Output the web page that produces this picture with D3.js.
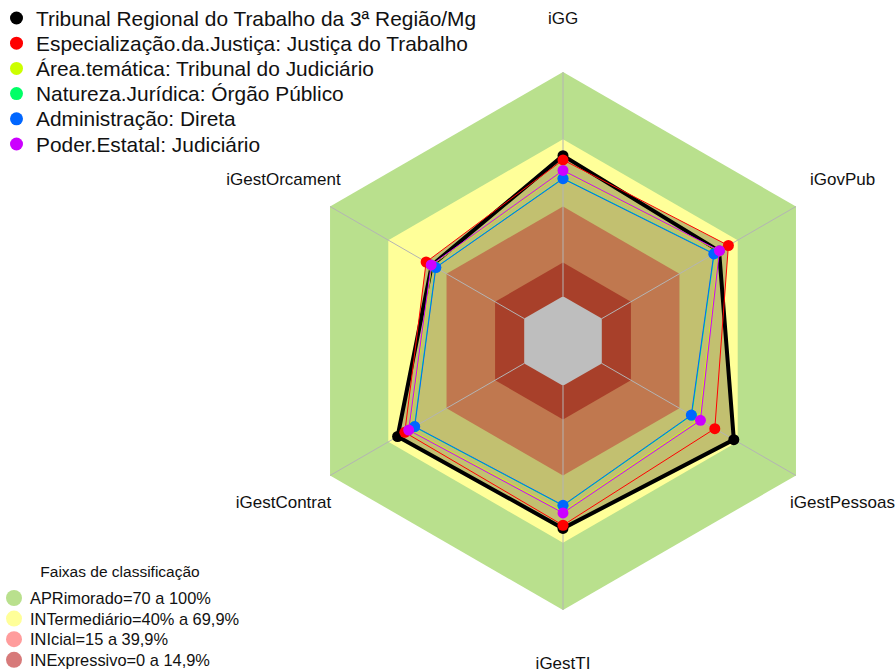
<!DOCTYPE html>
<html>
<head>
<meta charset="utf-8">
<script src="https://cdn.jsdelivr.net/npm/d3@7"></script>
<style>
  body { margin: 0; background: #fff; }
  svg { display: block; font-family: "Liberation Sans", Arial, sans-serif; }
</style>
</head>
<body>
<svg width="896" height="672"></svg>
<script>
// axes, clockwise from the top
const axes = ["iGG", "iGovPub", "iGestPessoas", "iGestTI", "iGestContrat", "iGestOrcament"];

const seriesNames = [
  "Tribunal Regional do Trabalho da 3ª Região/Mg",
  "Especialização.da.Justiça: Justiça do Trabalho",
  "Área.temática: Tribunal do Judiciário",
  "Natureza.Jurídica: Órgão Público",
  "Administração: Direta",
  "Poder.Estatal: Judiciário"
];
const seriesColors = ["#000000", "#FF0000", "#CCFF00", "#00FF66", "#0066FF", "#CC00FF"];

// values in %
const trt3    = [62.7, 60.4, 68.0, 63.6, 65.2, 47.6];
const especJT = [60.8, 65.2, 58.2, 62.2, 61.5, 50.5];
const areaTem = [55.8, 60.3, 50.3, 56.2, 59.1, 47.6];
const natJur  = [52.6, 57.9, 46.3, 53.5, 56.6, 45.6];
const admDir  = [52.4, 57.7, 46.1, 53.3, 56.4, 45.5];
const poderJd = [56.1, 60.6, 50.8, 56.7, 59.5, 47.9];
const seriesValues = [trt3, especJT, areaTem, natJur, admDir, poderJd];

// classification bands
const bandNames = ["APRimorado=70 a 100%", "INTermediário=40% a 69,9%", "INIcial=15 a 39,9%", "INExpressivo=0 a 14,9%"];
const bandLegendColors = ["#B9E08D", "#FFFF99", "#FF9C9C", "#D77A7A"];
const bandLimits = [100, 70, 40, 15, 0];
const bandFills = ["#B9E08D", "#FFFF99", "#C0784F", "#A8402A", "#BEBEBE"];
const insideFill = "#C2C070";

const svg = d3.select("svg");
const cx = 563, cy = 341;
const r = d3.scaleLinear().domain([0, 100]).range([44.8, 269]);
const step = 2 * Math.PI / axes.length;

const radial = d3.lineRadial()
  .angle((d, i) => i * step)
  .radius(d => r(d))
  .curve(d3.curveLinearClosed);

const g = svg.append("g").attr("transform", `translate(${cx},${cy})`);

// outer two bands
[0, 1].forEach(k => {
  g.append("path")
    .attr("d", radial(axes.map(() => bandLimits[k])))
    .attr("fill", bandFills[k]);
});

// area covered by the data polygons
g.selectAll("path.area")
  .data(seriesValues)
  .join("path")
  .attr("class", "area")
  .attr("d", d => radial(d))
  .attr("fill", insideFill);

// inner bands
[2, 3, 4].forEach(k => {
  g.append("path")
    .attr("d", radial(axes.map(() => bandLimits[k])))
    .attr("fill", bandFills[k]);
});

// spokes
axes.forEach((a, i) => {
  const ang = i * step - Math.PI / 2;
  g.append("line")
    .attr("x1", r(0) * Math.cos(ang)).attr("y1", r(0) * Math.sin(ang))
    .attr("x2", r(100) * Math.cos(ang)).attr("y2", r(100) * Math.sin(ang))
    .attr("stroke", "#B4B4B4").attr("stroke-width", 1);
});

// axis labels
axes.forEach((a, i) => {
  const ang = i * step - Math.PI / 2;
  const rl = r(100) * 1.2;
  g.append("text")
    .attr("x", rl * Math.cos(ang))
    .attr("y", rl * Math.sin(ang))
    .attr("text-anchor", "middle")
    .attr("dominant-baseline", "central")
    .attr("font-size", 17)
    .attr("fill", "#111")
    .text(a);
});

// series lines and points
seriesValues.forEach((vals, s) => {
  g.append("path")
    .attr("d", radial(vals))
    .attr("fill", "none")
    .attr("stroke", seriesColors[s])
    .attr("stroke-width", s === 0 ? 4 : 1)
    .attr("stroke-linejoin", "round");
  g.selectAll(null)
    .data(vals)
    .join("circle")
    .attr("cx", (d, i) => r(d) * Math.cos(i * step - Math.PI / 2))
    .attr("cy", (d, i) => r(d) * Math.sin(i * step - Math.PI / 2))
    .attr("r", 5.5)
    .attr("fill", seriesColors[s]);
});

// series legend (top left)
const leg = svg.append("g");
seriesNames.forEach((name, i) => {
  const y = 18 + i * 25.2;
  leg.append("circle").attr("cx", 16.5).attr("cy", y).attr("r", 6.5).attr("fill", seriesColors[i]);
  leg.append("text")
    .attr("x", 36).attr("y", y)
    .attr("dominant-baseline", "central")
    .attr("font-size", 20.9)
    .attr("fill", "#111")
    .text(name);
});

// bands legend (bottom left)
const leg2 = svg.append("g");
leg2.append("text")
  .attr("x", 120).attr("y", 571)
  .attr("text-anchor", "middle")
  .attr("dominant-baseline", "central")
  .attr("font-size", 15.5)
  .attr("fill", "#111")
  .text("Faixas de classificação");
bandNames.forEach((name, i) => {
  const y = 598 + i * 20.6;
  leg2.append("circle").attr("cx", 14).attr("cy", y).attr("r", 8).attr("fill", bandLegendColors[i]);
  leg2.append("text")
    .attr("x", 30).attr("y", y)
    .attr("dominant-baseline", "central")
    .attr("font-size", 16.4)
    .attr("fill", "#111")
    .text(name);
});
</script>
</body>
</html>
